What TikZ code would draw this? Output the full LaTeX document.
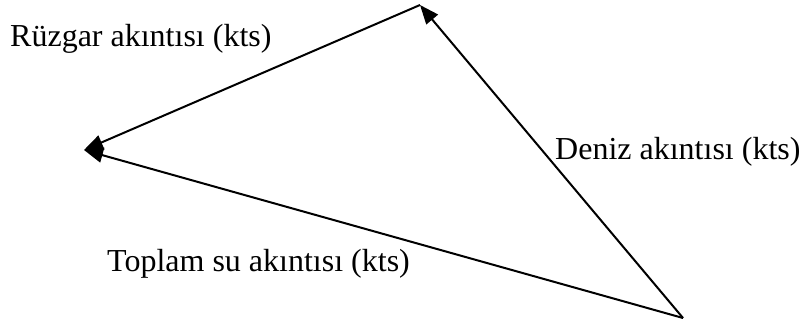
\documentclass[tikz,border=0pt]{standalone}
\usepackage{fontspec}
\setmainfont{Liberation Serif}
\usetikzlibrary{arrows.meta}
\begin{document}
\begin{tikzpicture}[x=1pt,y=-1pt,
  vec/.style={line width=2pt,-{Triangle[length=19pt,width=15pt]}},
  lbl/.style={anchor=base west,inner sep=0pt,font=\fontsize{32}{36}\selectfont}]
\useasboundingbox (0,0) rectangle (799,323);
\coordinate (T) at (420,5);
\coordinate (L) at (84,150);
\coordinate (B) at (683,318);
\draw[vec] (B) -- (T);
\draw[vec] (T) -- (L);
\draw[vec] (B) -- (L);
\node[lbl] (r) at (10,47) {Rüzgar akıntısı (kts)};
\node[lbl] (d) at (555,159) {Deniz akıntısı (kts)};
\node[lbl] (t) at (107,271) {Toplam su akıntısı (kts)};
\end{tikzpicture}
\end{document}
